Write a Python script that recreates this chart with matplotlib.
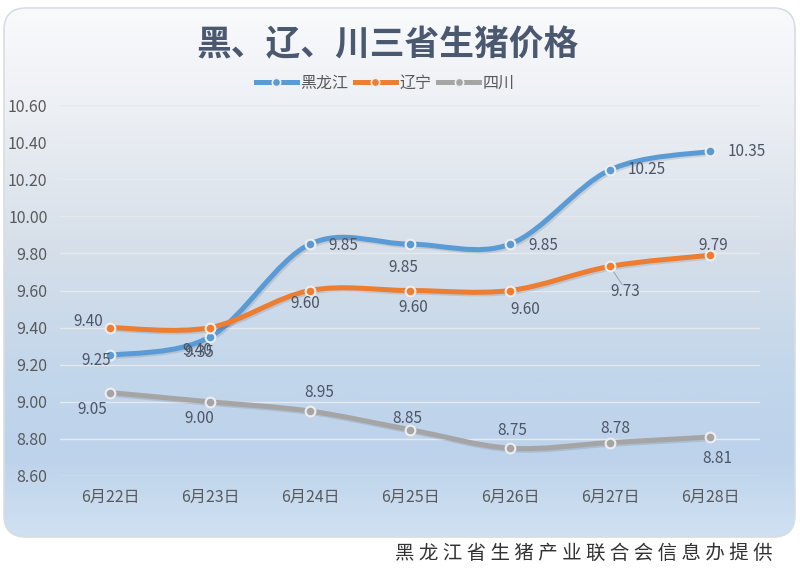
import numpy as np
import matplotlib
matplotlib.use('Agg')
import matplotlib.pyplot as plt
from matplotlib.path import Path
from matplotlib.patches import PathPatch, FancyBboxPatch
from matplotlib.colors import LinearSegmentedColormap
from matplotlib.lines import Line2D
import matplotlib.patheffects as pe

plt.rcParams['font.family'] = ['Noto Sans CJK SC', 'DejaVu Sans']

# data
dates = ['6月22日', '6月23日', '6月24日', '6月25日', '6月26日', '6月27日', '6月28日']
heilongjiang = [9.25, 9.35, 9.85, 9.85, 9.85, 10.25, 10.35]
liaoning = [9.40, 9.40, 9.60, 9.60, 9.60, 9.73, 9.79]
sichuan = [9.05, 9.00, 8.95, 8.85, 8.75, 8.78, 8.81]
names = ['黑龙江', '辽宁', '四川']
yticks = [8.60, 8.80, 9.00, 9.20, 9.40, 9.60, 9.80, 10.00, 10.20, 10.40, 10.60]

colors = ['#5b9bd5', '#ed7d31', '#a5a5a5']
# label offsets in pixels (dx, dy), like the Excel label placement
offsets = [
    [(-14, -5), (-11, -16), (33, -1), (-7, -23), (33, -1), (37, 0), (37, 0)],
    [(-22, 6), (-13, -23), (-5, -13), (3, -17), (15, -19), (15, -25), (3, 10)],
    [(-18, -17), (-11, -17), (9, 19), (-3, 11), (2, 18), (5, 14), (7, -21)],
]


def smooth_path(x, y):
    # bezier through the points, catmull-rom style control points
    p = np.column_stack([x, y]).astype(float)
    ext = np.vstack([p[0], p, p[-1]])
    verts = [p[0]]
    codes = [Path.MOVETO]
    for i in range(len(p) - 1):
        c1 = ext[i + 1] + (ext[i + 2] - ext[i]) / 6
        c2 = ext[i + 2] - (ext[i + 3] - ext[i + 1]) / 6
        verts += [c1, c2, ext[i + 2]]
        codes += [Path.CURVE4] * 3
    return Path(verts, codes)


fig = plt.figure(figsize=(8, 5.71), dpi=100)
fig.patch.set_facecolor('white')

bg = fig.add_axes([0, 0, 1, 1])
bg.set_xlim(0, 800)
bg.set_ylim(571, 0)
bg.axis('off')
box = FancyBboxPatch((4, 8), 791, 529, boxstyle='round,pad=0,rounding_size=22',
                     fc='none', ec='#d8dde4', lw=1.2, zorder=2)
bg.add_patch(box)
cmap = LinearSegmentedColormap.from_list('bg', [
    (0.0, '#f9fafc'), (0.2, '#eceff4'), (0.45, '#d6dfe9'),
    (0.7, '#c2d6eb'), (0.85, '#bdd3eb'), (1.0, '#d0e1f2')])
grad = np.linspace(0, 1, 256).reshape(-1, 1)
im = bg.imshow(grad, extent=(4, 795, 537, 8), aspect='auto', cmap=cmap, zorder=1)
im.set_clip_path(box)

ax = fig.add_axes([60 / 800, 95 / 571, 700 / 800, 371 / 571])
ax.patch.set_alpha(0)
for s in ax.spines.values():
    s.set_visible(False)
ax.set_xlim(-0.5, 6.5)
ax.set_ylim(8.6, 10.6)
ax.set_yticks(yticks)
ax.set_yticklabels([f'{v:.2f}' for v in yticks])
ax.set_xticks(range(len(dates)))
ax.set_xticklabels(dates)
ax.tick_params(length=0, labelsize=11.5, labelcolor='#595959')
ax.tick_params(axis='y', pad=9)
ax.tick_params(axis='x', pad=9)
ax.yaxis.grid(True, color='#e6e9ee', lw=1)
ax.set_axisbelow(True)

x = np.arange(len(dates))
handles = []
for k, vals in enumerate([heilongjiang, liaoning, sichuan]):
    patch = PathPatch(smooth_path(x, vals), fill=False, ec=colors[k], lw=3.6,
                      capstyle='round', zorder=3,
                      path_effects=[pe.SimpleLineShadow(offset=(1.2, -1.2), alpha=0.1),
                                    pe.Normal()])
    ax.add_patch(patch)
    ax.plot(x, vals, ls='none', marker='o', ms=7, mfc=colors[k], mec='#eeeeee',
            mew=1.5, zorder=4)
    for i, v in enumerate(vals):
        dx, dy = offsets[k][i]
        ax.annotate(f'{v:.2f}', (i, v), xytext=(dx, dy), textcoords='offset pixels',
                    ha='center', va='center', fontsize=11, color='#4d5565', zorder=5)
    handles.append(Line2D([], [], color=colors[k], lw=3.6, marker='o', ms=6,
                          mfc=colors[k], mec='#eeeeee', mew=1.2))

# leader line for the 9.73 label
ax.annotate('', (5, liaoning[5]), xytext=(12, -18), textcoords='offset pixels',
            arrowprops=dict(arrowstyle='-', color='#9aa3ad', lw=0.7, shrinkA=0, shrinkB=4))

fig.text(388 / 800, 1 - 45 / 571, '黑、辽、川三省生猪价格', ha='center', va='center',
         fontsize=25, fontweight='bold', color='#4a5870')
leg = fig.legend(handles, names, loc='center', bbox_to_anchor=(385 / 800, 1 - 83 / 571),
                 ncol=3, frameon=False, fontsize=11.5, handlelength=2.6,
                 handletextpad=0.2, columnspacing=0.4)
for t in leg.get_texts():
    t.set_color('#595959')

fig.text(773 / 800, 1 - 553 / 571, '黑 龙 江 省 生 猪 产 业 联 合 会 信 息 办 提 供',
         ha='right', va='center', fontsize=14, fontweight='light', color='#333333')

fig.savefig('out.png', dpi=100)
